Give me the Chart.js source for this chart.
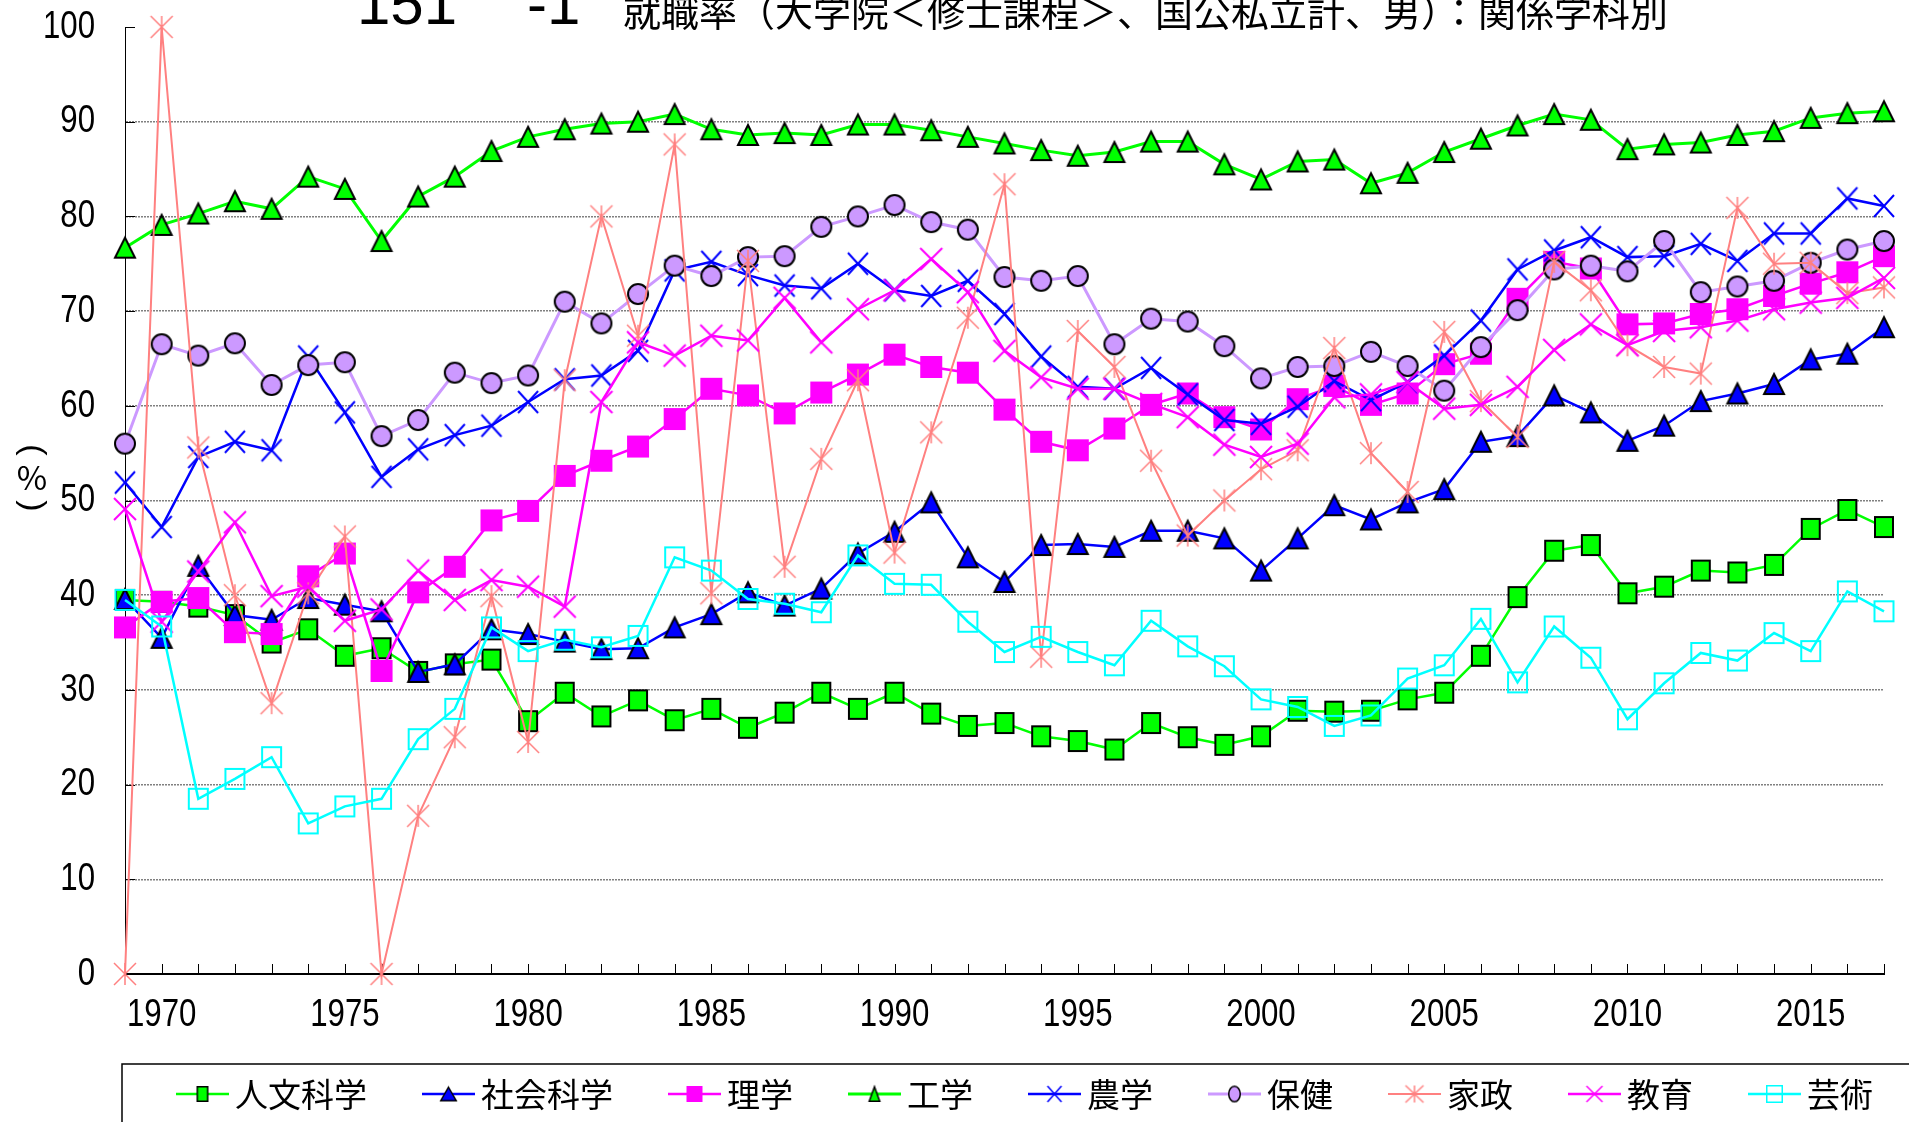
<!DOCTYPE html>
<html lang="ja">
<head>
<meta charset="utf-8">
<title>151-1 就職率（大学院＜修士課程＞、国公私立計、男）：関係学科別</title>
<script src="https://cdn.jsdelivr.net/npm/chart.js@4.4.1/dist/chart.umd.min.js"></script>
<style>
  html, body { margin: 0; padding: 0; background: #fff; }
  canvas { display: block; }
</style>
</head>
<body>
<canvas id="chart" width="1909" height="1122"></canvas>
<script>
// 年度（1969〜2017）
const years = [
  1969, 1970, 1971, 1972, 1973, 1974, 1975, 1976, 1977, 1978,
  1979, 1980, 1981, 1982, 1983, 1984, 1985, 1986, 1987, 1988,
  1989, 1990, 1991, 1992, 1993, 1994, 1995, 1996, 1997, 1998,
  1999, 2000, 2001, 2002, 2003, 2004, 2005, 2006, 2007, 2008,
  2009, 2010, 2011, 2012, 2013, 2014, 2015, 2016, 2017
];

// 就職率（%）
const jinbun = [
  39.5, 39.3, 38.8, 37.9, 35.0, 36.4, 33.6, 34.4, 31.9, 32.7,
  33.2, 26.7, 29.7, 27.2, 28.9, 26.8, 28.0, 26.0, 27.6, 29.7,
  28.0, 29.7, 27.5, 26.2, 26.5, 25.1, 24.6, 23.7, 26.5, 25.0,
  24.2, 25.1, 27.8, 27.7, 27.8, 29.0, 29.7, 33.6, 39.8, 44.7,
  45.3, 40.2, 40.9, 42.6, 42.4, 43.2, 47.0, 49.0, 47.2
];
const shakai = [
  39.6, 35.5, 43.1, 37.9, 37.4, 39.7, 39.0, 38.3, 31.9, 32.7,
  36.4, 35.9, 35.1, 34.3, 34.4, 36.6, 38.0, 40.3, 38.9, 40.7,
  44.4, 46.7, 49.8, 44.0, 41.4, 45.3, 45.4, 45.1, 46.8, 46.8,
  46.0, 42.6, 46.0, 49.5, 48.0, 49.8, 51.2, 56.2, 56.8, 61.1,
  59.3, 56.3, 57.9, 60.5, 61.3, 62.3, 64.9, 65.5, 68.3
];
const rigaku = [
  36.6, 39.3, 39.7, 36.1, 35.9, 42.0, 44.4, 32.0, 40.3, 43.0,
  47.9, 48.9, 52.6, 54.2, 55.7, 58.6, 61.8, 61.1, 59.2, 61.4,
  63.3, 65.4, 64.1, 63.5, 59.6, 56.2, 55.3, 57.6, 60.1, 61.3,
  58.8, 57.5, 60.7, 62.1, 60.1, 61.3, 64.4, 65.5, 71.3, 75.2,
  74.5, 68.6, 68.7, 69.7, 70.2, 71.6, 72.9, 74.1, 75.8
];
const kogaku = [
  76.7, 79.1, 80.3, 81.6, 80.8, 84.2, 82.9, 77.4, 82.1, 84.2,
  86.9, 88.4, 89.2, 89.8, 90.0, 90.8, 89.2, 88.6, 88.8, 88.6,
  89.7, 89.7, 89.1, 88.4, 87.7, 87.0, 86.4, 86.8, 87.9, 87.9,
  85.5, 83.9, 85.8, 86.0, 83.5, 84.6, 86.8, 88.2, 89.6, 90.8,
  90.2, 87.1, 87.6, 87.8, 88.6, 89.0, 90.4, 90.9, 91.1
];
const nogaku = [
  51.9, 47.2, 54.6, 56.2, 55.3, 65.2, 59.3, 52.5, 55.4, 56.9,
  57.9, 60.4, 62.8, 63.2, 65.8, 74.3, 75.2, 73.8, 72.7, 72.4,
  75.0, 72.2, 71.6, 73.2, 69.7, 65.2, 62.0, 61.8, 64.0, 61.2,
  58.5, 58.1, 59.9, 62.6, 60.6, 62.5, 65.3, 69.0, 74.4, 76.4,
  77.8, 75.7, 75.8, 77.1, 75.3, 78.2, 78.2, 81.9, 81.1
];
const hoken = [
  56.0, 66.5, 65.3, 66.6, 62.2, 64.3, 64.6, 56.8, 58.5, 63.5,
  62.4, 63.2, 71.0, 68.7, 71.8, 74.8, 73.7, 75.7, 75.8, 78.9,
  80.0, 81.2, 79.4, 78.6, 73.6, 73.2, 73.7, 66.5, 69.2, 68.9,
  66.3, 62.9, 64.1, 64.2, 65.7, 64.2, 61.6, 66.2, 70.1, 74.4,
  74.8, 74.2, 77.4, 72.0, 72.6, 73.2, 75.1, 76.5, 77.4
];
const kasei = [
  0.0, 100.0, 55.6, 40.0, 28.6, 40.2, 46.2, 0.0, 16.7, 25.0,
  39.9, 24.5, 62.7, 80.0, 67.4, 87.6, 40.2, 75.3, 43.0, 54.4,
  62.7, 44.5, 57.2, 69.3, 83.4, 33.5, 67.9, 64.1, 54.2, 46.3,
  50.0, 53.3, 55.3, 66.1, 55.0, 50.9, 67.8, 60.5, 56.7, 75.2,
  72.2, 66.4, 64.1, 63.4, 80.9, 75.0, 75.1, 71.9, 72.5
];
const kyoiku = [
  49.1, 37.2, 42.5, 47.7, 39.9, 40.9, 37.3, 38.5, 42.6, 39.5,
  41.6, 40.9, 38.8, 60.4, 66.7, 65.3, 67.4, 66.9, 71.4, 66.7,
  70.2, 72.2, 75.5, 72.0, 65.8, 63.0, 61.8, 61.8, 60.2, 58.8,
  55.9, 54.6, 56.0, 60.9, 61.2, 62.5, 59.7, 60.1, 62.0, 65.9,
  68.6, 66.4, 67.9, 68.3, 69.0, 70.2, 70.9, 71.4, 73.5
];
const geijutsu = [
  39.5, 36.7, 18.5, 20.6, 22.9, 15.9, 17.7, 18.5, 24.8, 28.0,
  36.6, 34.1, 35.3, 34.5, 35.7, 44.0, 42.6, 39.6, 39.1, 38.2,
  44.2, 41.2, 41.1, 37.2, 34.0, 35.6, 34.0, 32.6, 37.3, 34.6,
  32.5, 29.0, 28.2, 26.2, 27.3, 31.2, 32.6, 37.5, 30.8, 36.7,
  33.4, 26.9, 30.7, 33.9, 33.1, 36.0, 34.1, 40.4, 38.3
];

const yTicks = [0, 10, 20, 30, 40, 50, 60, 70, 80, 90, 100];
const labeledYears = [1970, 1975, 1980, 1985, 1990, 1995, 2000, 2005, 2010, 2015];

const numFont = '"Liberation Sans", Arial, sans-serif';
const jpFont = '"Noto Sans CJK JP", "Noto Sans CJK SC", sans-serif';

// Excel風のマーカーを小さなcanvasで作る
function makeMarker(shape, w, h, fill, stroke, lw) {
  const pad = 2;
  const c = document.createElement('canvas');
  c.width = w + pad * 2;
  c.height = h + pad * 2;
  const g = c.getContext('2d');
  g.translate(pad, pad);
  g.lineWidth = lw;
  const cx = w / 2, cy = h / 2, o = lw / 2;
  g.beginPath();
  if (shape === 'square') {
    g.rect(o, o, w - lw, h - lw);
  } else if (shape === 'triangle') {
    g.moveTo(cx, o);
    g.lineTo(w - o, h - o);
    g.lineTo(o, h - o);
    g.closePath();
  } else if (shape === 'circle') {
    g.ellipse(cx, cy, cx - o, cy - o, 0, 0, Math.PI * 2);
  } else {
    g.moveTo(0, 0); g.lineTo(w, h);
    g.moveTo(w, 0); g.lineTo(0, h);
    if (shape === 'star') { g.moveTo(cx, 0); g.lineTo(cx, h); }
  }
  if (fill) { g.fillStyle = fill; g.fill(); }
  if (stroke) { g.strokeStyle = stroke; g.stroke(); }
  return c;
}

const series = [
  { label: '人文科学', data: jinbun, color: '#00ff00', width: 2.5,
    marker: makeMarker('square', 20, 22, '#00ff00', '#000', 2),
    legend: makeMarker('square', 12, 16, '#00ff00', '#000', 1.5) },
  { label: '社会科学', data: shakai, color: '#0000ff', width: 2.5,
    marker: makeMarker('triangle', 22, 22, '#0000ff', '#000', 2),
    legend: makeMarker('triangle', 17, 15, '#0000ff', '#000', 1.5) },
  { label: '理学', data: rigaku, color: '#ff00ff', width: 2.5,
    marker: makeMarker('square', 22, 22, '#ff00ff', null, 0),
    legend: makeMarker('square', 16, 16, '#ff00ff', null, 0) },
  { label: '工学', data: kogaku, color: '#00ff00', width: 3,
    marker: makeMarker('triangle', 22, 22, '#00ff00', '#000', 2),
    legend: makeMarker('triangle', 12, 16, '#00ff00', '#000', 1.5) },
  { label: '農学', data: nogaku, color: '#0000ff', width: 2.5,
    marker: makeMarker('x', 20, 22, null, '#0000ff', 2),
    legend: makeMarker('x', 14, 16, null, '#0000ff', 1.5) },
  { label: '保健', data: hoken, color: '#cc99ff', width: 3,
    marker: makeMarker('circle', 22, 22, '#cc99ff', '#000', 2),
    legend: makeMarker('circle', 13, 17, '#cc99ff', '#000', 1.5) },
  { label: '家政', data: kasei, color: '#ff8080', width: 2,
    marker: makeMarker('star', 22, 22, null, '#ff8080', 1.5),
    legend: makeMarker('star', 18, 17, null, '#ff8080', 1.5) },
  { label: '教育', data: kyoiku, color: '#ff00ff', width: 2.5,
    marker: makeMarker('x', 22, 22, null, '#ff00ff', 2),
    legend: makeMarker('x', 16, 16, null, '#ff00ff', 1.5) },
  { label: '芸術', data: geijutsu, color: '#00ffff', width: 2.5,
    marker: makeMarker('square', 21, 22, null, '#00ffff', 2),
    legend: makeMarker('square', 17, 18, null, '#00ffff', 1.5) }
];

// 縦長の数字（元の図の細い字形に寄せる）
function narrowText(ctx, text, x, y, align) {
  ctx.save();
  ctx.translate(x, y);
  ctx.scale(0.8, 1);
  ctx.textAlign = align;
  ctx.fillText(text, 0, 0);
  ctx.restore();
}

// タイトル・縦軸ラベル・目盛・凡例
const decorPlugin = {
  id: 'decor',
  beforeDatasetsDraw(chart) {
    const ctx = chart.ctx;
    const xs = chart.scales.x, ys = chart.scales.y;
    const area = chart.chartArea;
    ctx.save();
    ctx.strokeStyle = '#000';
    ctx.lineWidth = 1;
    ctx.beginPath();
    years.forEach((yr, i) => {
      const px = Math.round(xs.getPixelForValue(i)) + 0.5;
      ctx.moveTo(px, area.bottom);
      ctx.lineTo(px, area.bottom - 10);
    });
    yTicks.forEach(v => {
      const py = Math.round(ys.getPixelForValue(v)) + 0.5;
      ctx.moveTo(area.left, py);
      ctx.lineTo(area.left + 10, py);
    });
    ctx.stroke();
    ctx.restore();
  },
  afterDraw(chart) {
    const ctx = chart.ctx;
    const xs = chart.scales.x, ys = chart.scales.y;
    ctx.save();
    ctx.fillStyle = '#000';

    // 目盛ラベル
    ctx.font = '39px ' + numFont;
    ctx.textBaseline = 'middle';
    yTicks.forEach(v => {
      narrowText(ctx, String(v), 95, ys.getPixelForValue(v), 'right');
    });
    labeledYears.forEach(yr => {
      const i = years.indexOf(yr);
      narrowText(ctx, String(yr), xs.getPixelForValue(i), 1015, 'center');
    });

    // タイトル（上が切れている）
    ctx.textBaseline = 'alphabetic';
    ctx.textAlign = 'left';
    ctx.font = '60px ' + numFont;
    ctx.fillText('151', 357, 24);
    ctx.fillText('-1', 527, 24);
    ctx.font = '38px ' + jpFont;
    ctx.fillText('就職率（大学院＜修士課程＞、国公私立計、男）：関係学科別', 623, 26);

    // 縦軸ラベル（%）
    ctx.font = '33px ' + jpFont;
    ctx.textAlign = 'center';
    ctx.textBaseline = 'middle';
    ctx.fillText('%', 32, 477);
    ctx.font = '34px ' + numFont;
    [[450, '('], [506, ')']].forEach(([py, ch]) => {
      ctx.save();
      ctx.translate(32, py);
      ctx.rotate(Math.PI / 2);
      ctx.fillText(ch, 0, 0);
      ctx.restore();
    });

    // 凡例の枠
    ctx.strokeStyle = '#000';
    ctx.lineWidth = 1.5;
    ctx.beginPath();
    ctx.moveTo(122, 1130);
    ctx.lineTo(122, 1064);
    ctx.lineTo(1912, 1064);
    ctx.stroke();

    // 凡例
    ctx.font = '33px ' + jpFont;
    ctx.textAlign = 'left';
    ctx.textBaseline = 'middle';
    const ly = 1094;
    let lx = 176;
    series.forEach(s => {
      ctx.strokeStyle = s.color;
      ctx.lineWidth = s.width;
      ctx.beginPath();
      ctx.moveTo(lx, ly);
      ctx.lineTo(lx + 53, ly);
      ctx.stroke();
      const m = s.legend;
      ctx.drawImage(m, lx + 26.5 - m.width / 2, ly - m.height / 2);
      ctx.fillStyle = '#000';
      ctx.fillText(s.label, lx + 59, ly);
      lx += 59 + ctx.measureText(s.label).width + 55;
    });
    ctx.restore();
  }
};

const datasets = series.map((s, i) => ({
  label: s.label,
  data: s.data,
  borderColor: s.color,
  backgroundColor: s.color,
  borderWidth: s.width,
  pointStyle: s.marker,
  pointRadius: 11,
  pointHoverRadius: 11,
  tension: 0,
  clip: false,
  order: series.length - i
}));

new Chart(document.getElementById('chart'), {
  type: 'line',
  data: { labels: years, datasets: datasets },
  options: {
    responsive: false,
    animation: false,
    events: [],
    layout: { padding: { top: 27, right: 25, left: 0, bottom: 0 } },
    plugins: {
      legend: { display: false },
      title: { display: false },
      tooltip: { enabled: false }
    },
    scales: {
      x: {
        type: 'category',
        offset: false,
        grid: { display: false, drawTicks: false },
        border: { display: true, color: '#000', width: 2 },
        ticks: { display: false },
        afterFit: s => { s.height = 148; }
      },
      y: {
        min: 0,
        max: 100,
        grid: {
          drawTicks: false,
          lineWidth: 1.5,
          color: c => (c.tick.value === 0 || c.tick.value === 100) ? 'rgba(0,0,0,0)' : '#808080'
        },
        border: { display: true, color: '#000', width: 1, dash: [2, 1] },
        ticks: { display: false, stepSize: 10 },
        afterFit: s => { s.width = 125; }
      }
    }
  },
  plugins: [decorPlugin]
});
</script>
</body>
</html>
